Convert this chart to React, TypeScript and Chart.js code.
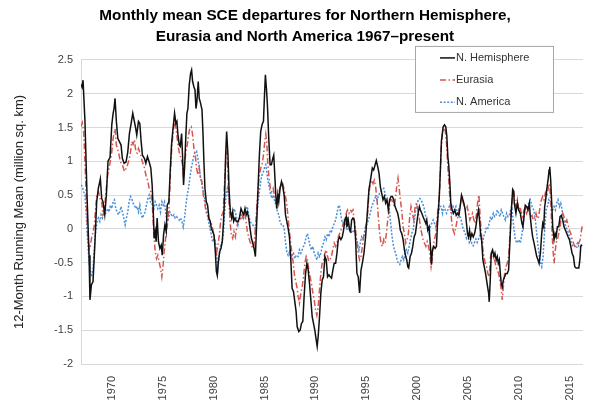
import React, { useEffect, useRef } from 'react';
import { Chart, registerables } from 'chart.js';

Chart.register(...registerables);

const TITLE_LINES = [
  'Monthly mean SCE departures for Northern Hemisphere,',
  'Eurasia and North America 1967–present',
];
const Y_AXIS_TITLE = '12-Month Running Mean (million sq. km)';
const SERIES_LABELS = ['N. Hemisphere', 'Eurasia', 'N. America'];
const X_TICK_YEARS = [1970, 1975, 1980, 1985, 1990, 1995, 2000, 2005, 2010, 2015];
const X_MIN = 1967;
const X_MAX = 2016.25;
const Y_MIN = -2;
const Y_MAX = 2.5;
const Y_STEP = 0.5;

// [decimal year, departure in million sq. km]
const nhSeries: [number, number][] = [
  [1967.0, 2.14], [1967.1, 2.1], [1967.2, 2.2], [1967.39, 1.59], [1967.59, 0.5], [1967.79, -0.39], [1967.88, -1.05],
  [1968.02, -0.83], [1968.18, -0.78], [1968.34, -0.29], [1968.54, 0.4], [1968.7, 0.6], [1968.9, 0.74],
  [1969.03, 0.45], [1969.16, 0.4], [1969.33, 0.21], [1969.49, 0.5], [1969.65, 1.0], [1969.85, 1.06],
  [1970.02, 1.54], [1970.15, 1.71], [1970.24, 1.78], [1970.34, 1.93], [1970.47, 1.59], [1970.61, 1.34], [1970.77, 1.29], [1970.93, 1.24],
  [1971.06, 1.04], [1971.23, 0.97], [1971.42, 0.99], [1971.59, 1.14], [1971.75, 1.41], [1971.92, 1.56],
  [1972.08, 1.71], [1972.21, 1.61], [1972.34, 1.51], [1972.47, 1.39], [1972.64, 1.59], [1972.77, 1.56], [1972.9, 1.29],
  [1973.03, 1.09], [1973.23, 1.04], [1973.36, 0.97], [1973.52, 1.07], [1973.69, 0.99], [1973.85, 0.9], [1973.98, 0.65],
  [1974.08, 0.3], [1974.18, -0.14], [1974.28, -0.04], [1974.37, -0.19], [1974.47, 0.16], [1974.6, -0.19], [1974.74, -0.29], [1974.87, -0.24], [1974.97, -0.39],
  [1975.1, -0.09], [1975.23, 0.06], [1975.36, -0.04], [1975.46, 0.35], [1975.62, 0.4], [1975.75, 0.85], [1975.88, 1.24],
  [1976.01, 1.46], [1976.18, 1.71], [1976.31, 1.56], [1976.41, 1.59], [1976.5, 1.41], [1976.64, 1.24], [1976.74, 1.22], [1976.87, 1.41], [1976.96, 1.09],
  [1977.06, 0.65], [1977.16, 0.9], [1977.29, 1.39], [1977.39, 1.71], [1977.49, 1.78], [1977.62, 2.13], [1977.75, 2.3], [1977.85, 2.35], [1977.95, 2.18],
  [1978.08, 2.1], [1978.18, 2.06], [1978.28, 1.78], [1978.37, 1.88], [1978.5, 2.18], [1978.6, 1.93], [1978.73, 1.86], [1978.87, 1.76], [1978.96, 1.44],
  [1979.06, 0.99], [1979.16, 0.6], [1979.29, 0.4], [1979.42, 0.35], [1979.55, 0.16], [1979.68, 0.11], [1979.78, 0.01], [1979.91, -0.04],
  [1980.05, -0.09], [1980.18, -0.34], [1980.28, -0.63], [1980.37, -0.69], [1980.47, -0.49], [1980.6, -0.34], [1980.73, -0.29], [1980.86, -0.19], [1980.98, 0.1],
  [1981.09, 0.5], [1981.19, 1.09], [1981.29, 1.44], [1981.42, 1.09], [1981.52, 0.6], [1981.65, 0.25], [1981.78, 0.16], [1981.88, 0.25], [1981.98, 0.11],
  [1982.11, 0.16], [1982.24, 0.11], [1982.4, 0.11], [1982.54, 0.16], [1982.7, 0.3], [1982.83, 0.25], [1982.96, 0.21],
  [1983.09, 0.3], [1983.22, 0.21], [1983.32, 0.25], [1983.45, 0.16], [1983.58, 0.01], [1983.72, -0.14], [1983.85, -0.21], [1983.98, -0.29],
  [1984.11, -0.41], [1984.24, 0.11], [1984.37, 0.6], [1984.5, 1.09], [1984.63, 1.44], [1984.76, 1.54], [1984.9, 1.59], [1984.99, 1.93],
  [1985.09, 2.28], [1985.19, 2.08], [1985.29, 1.83], [1985.42, 1.34], [1985.55, 0.95], [1985.68, 0.95], [1985.81, 1.04], [1985.91, 1.09],
  [1986.01, 0.8], [1986.11, 0.5], [1986.21, 0.3], [1986.31, 0.5], [1986.4, 0.4], [1986.53, 0.6], [1986.67, 0.7], [1986.8, 0.62], [1986.93, 0.5],
  [1987.06, 0.21], [1987.19, 0.11], [1987.32, 0.01], [1987.45, -0.12], [1987.58, -0.44], [1987.71, -0.88], [1987.85, -0.93], [1987.98, -1.08],
  [1988.1, -1.22], [1988.21, -1.45], [1988.37, -1.52], [1988.5, -1.5], [1988.63, -1.4], [1988.76, -1.37], [1988.89, -1.0],
  [1989.03, -0.66], [1989.16, -0.51], [1989.29, -0.61], [1989.42, -0.81], [1989.55, -1.05], [1989.68, -1.3], [1989.81, -1.4], [1989.94, -1.5],
  [1990.07, -1.64], [1990.17, -1.74], [1990.27, -1.59], [1990.4, -1.3], [1990.53, -0.95], [1990.66, -0.76], [1990.79, -0.71], [1990.93, -0.41],
  [1991.06, -0.46], [1991.19, -0.71], [1991.32, -0.68], [1991.45, -0.71], [1991.58, -0.73], [1991.71, -0.61], [1991.84, -0.51], [1991.98, -0.51],
  [1992.11, -0.36], [1992.24, -0.16], [1992.37, -0.12], [1992.5, -0.16], [1992.63, -0.12], [1992.76, -0.02], [1992.89, 0.13],
  [1993.02, 0.18], [1993.09, 0.03], [1993.22, 0.13], [1993.35, -0.02], [1993.45, -0.04], [1993.55, 0.13], [1993.68, 0.16], [1993.81, 0.13], [1993.94, -0.16],
  [1994.07, -0.66], [1994.2, -0.71], [1994.33, -0.95], [1994.47, -0.61], [1994.6, -0.51], [1994.76, -0.36], [1994.92, -0.12],
  [1995.09, 0.23], [1995.25, 0.58], [1995.45, 0.77], [1995.58, 0.9], [1995.71, 0.87], [1995.84, 0.94], [1995.97, 1.01],
  [1996.11, 0.92], [1996.24, 0.82], [1996.37, 0.62], [1996.5, 0.53], [1996.63, 0.43], [1996.76, 0.48], [1996.89, 0.38],
  [1997.02, 0.43], [1997.15, 0.28], [1997.28, 0.43], [1997.42, 0.48], [1997.55, 0.48], [1997.68, 0.43], [1997.81, 0.33], [1997.94, 0.28],
  [1998.07, 0.23], [1998.2, 0.13], [1998.33, -0.02], [1998.47, -0.07], [1998.6, -0.16], [1998.73, -0.31], [1998.86, -0.41], [1998.96, -0.46],
  [1999.06, -0.56], [1999.15, -0.58], [1999.29, -0.41], [1999.42, -0.36], [1999.55, -0.26], [1999.68, -0.12], [1999.81, -0.07], [1999.94, 0.08],
  [2000.07, 0.23], [2000.2, 0.33], [2000.3, 0.28], [2000.43, 0.23], [2000.56, 0.18], [2000.69, 0.13], [2000.83, 0.08], [2000.92, 0.13],
  [2001.02, -0.02], [2001.15, 0.03], [2001.28, -0.26], [2001.38, -0.53], [2001.48, -0.31], [2001.61, -0.26], [2001.74, -0.29], [2001.87, -0.26],
  [2002.0, 0.15], [2002.14, 0.45], [2002.27, 0.92], [2002.36, 1.3], [2002.45, 1.41], [2002.53, 1.51], [2002.66, 1.54], [2002.79, 1.51], [2002.89, 1.37], [2002.99, 1.07],
  [2003.09, 0.92], [2003.19, 0.67], [2003.28, 0.38], [2003.41, 0.28], [2003.55, 0.23], [2003.68, 0.28], [2003.81, 0.2], [2003.94, 0.23],
  [2004.07, 0.2], [2004.2, 0.33], [2004.33, 0.5], [2004.43, 0.45], [2004.56, 0.38], [2004.69, 0.28], [2004.82, 0.08], [2004.92, -0.07],
  [2005.02, -0.12], [2005.12, -0.02], [2005.22, -0.14], [2005.35, -0.07], [2005.48, -0.12], [2005.61, -0.07], [2005.74, 0.03], [2005.87, 0.18],
  [2006.0, 0.28], [2006.1, 0.13], [2006.2, -0.07], [2006.3, -0.16], [2006.43, -0.46], [2006.56, -0.56], [2006.69, -0.66], [2006.79, -0.76], [2006.89, -0.86], [2006.99, -0.95],
  [2007.05, -1.08], [2007.15, -0.76], [2007.25, -0.36], [2007.38, -0.31], [2007.51, -0.41], [2007.61, -0.36], [2007.74, -0.46], [2007.84, -0.41], [2007.94, -0.51],
  [2008.04, -0.46], [2008.14, -0.66], [2008.23, -0.81], [2008.33, -0.86], [2008.43, -0.76], [2008.56, -0.71], [2008.69, -0.66], [2008.82, -0.66], [2008.95, -0.61],
  [2009.09, -0.16], [2009.22, 0.28], [2009.35, 0.58], [2009.45, 0.55], [2009.51, 0.38], [2009.67, 0.23], [2009.81, 0.38], [2009.94, 0.28],
  [2010.1, 0.23], [2010.26, 0.08], [2010.36, 0.03], [2010.49, 0.23], [2010.59, 0.35], [2010.72, 0.33], [2010.85, 0.28], [2010.99, 0.38],
  [2011.08, 0.18], [2011.18, 0.03], [2011.31, -0.12], [2011.45, -0.21], [2011.58, -0.31], [2011.71, -0.41], [2011.84, -0.46], [2011.94, -0.51],
  [2012.07, -0.36], [2012.2, -0.07], [2012.3, 0.08], [2012.4, 0.03], [2012.49, 0.33], [2012.59, 0.43], [2012.69, 0.58], [2012.82, 0.72], [2012.92, 0.87], [2012.99, 0.92],
  [2013.08, 0.72], [2013.18, 0.38], [2013.28, 0.03], [2013.41, -0.16], [2013.51, -0.07], [2013.61, -0.12], [2013.74, 0.03], [2013.87, 0.03],
  [2014.0, 0.18], [2014.13, 0.2], [2014.26, 0.13], [2014.39, 0.03], [2014.53, -0.02], [2014.66, -0.07], [2014.79, -0.12], [2014.92, -0.16],
  [2015.05, -0.26], [2015.18, -0.36], [2015.31, -0.41], [2015.44, -0.56], [2015.57, -0.58], [2015.71, -0.58], [2015.84, -0.58], [2015.94, -0.46],
  [2016.03, -0.26], [2016.16, -0.24],
];

const eurasiaSeries: [number, number][] = [
  [1967.0, 1.51], [1967.13, 1.57], [1967.26, 1.44], [1967.39, 0.99], [1967.52, 0.45], [1967.66, -0.09], [1967.8, -0.3], [1967.92, -0.25],
  [1968.05, -0.12], [1968.18, -0.05], [1968.31, 0.06], [1968.44, 0.3], [1968.54, 0.5], [1968.71, 0.55], [1968.87, 0.45],
  [1969.03, 0.4], [1969.16, 0.21], [1969.29, 0.25], [1969.42, 0.5], [1969.62, 0.8], [1969.82, 0.95],
  [1970.02, 1.14], [1970.15, 1.34], [1970.34, 1.48], [1970.47, 1.24], [1970.67, 1.14], [1970.87, 0.99],
  [1971.06, 0.95], [1971.26, 0.85], [1971.46, 0.9], [1971.65, 0.99], [1971.82, 1.09], [1971.98, 1.29],
  [1972.11, 1.25], [1972.24, 1.32], [1972.38, 1.14], [1972.51, 1.12], [1972.64, 1.19], [1972.84, 1.1],
  [1973.03, 0.99], [1973.23, 0.9], [1973.36, 0.8], [1973.56, 0.7], [1973.69, 0.6], [1973.85, 0.55], [1974.0, 0.35],
  [1974.15, -0.09], [1974.28, -0.34], [1974.41, -0.44], [1974.54, -0.39], [1974.67, -0.49], [1974.8, -0.58], [1974.93, -0.71],
  [1975.03, -0.58], [1975.13, -0.39], [1975.26, -0.19], [1975.39, -0.04], [1975.52, 0.11], [1975.65, 0.35], [1975.78, 0.85], [1975.92, 1.24],
  [1976.05, 1.44], [1976.18, 1.61], [1976.31, 1.49], [1976.44, 1.34], [1976.57, 1.19], [1976.7, 1.09], [1976.83, 1.04], [1976.96, 0.95],
  [1977.06, 0.75], [1977.16, 0.95], [1977.29, 1.14], [1977.42, 1.24], [1977.55, 1.39], [1977.68, 1.49], [1977.82, 1.51], [1977.95, 1.39],
  [1978.08, 1.19], [1978.21, 1.09], [1978.34, 0.9], [1978.47, 0.8], [1978.6, 0.9], [1978.73, 0.75], [1978.87, 0.7],
  [1979.0, 0.5], [1979.13, 0.4], [1979.26, 0.25], [1979.39, 0.21], [1979.52, 0.16], [1979.65, 0.11], [1979.78, 0.08], [1979.91, 0.01],
  [1980.05, -0.09], [1980.18, -0.25], [1980.31, -0.35], [1980.44, -0.24], [1980.57, -0.09], [1980.7, 0.11], [1980.83, 0.21], [1980.96, 0.25],
  [1981.09, 0.7], [1981.23, 1.09], [1981.32, 1.14], [1981.42, 0.85], [1981.52, 0.4], [1981.62, 0.11], [1981.75, -0.09], [1981.88, -0.14],
  [1982.01, -0.04], [1982.14, -0.12], [1982.27, 0.01], [1982.4, 0.11], [1982.54, 0.11], [1982.67, 0.16], [1982.8, 0.21], [1982.93, 0.16],
  [1983.06, 0.25], [1983.19, 0.11], [1983.32, -0.04], [1983.45, -0.12], [1983.58, -0.19], [1983.72, -0.24], [1983.85, -0.29], [1983.98, -0.24],
  [1984.11, 0.01], [1984.24, 0.3], [1984.37, 0.6], [1984.5, 0.8], [1984.63, 0.9], [1984.76, 0.95], [1984.9, 1.09],
  [1985.03, 1.29], [1985.13, 1.4], [1985.22, 1.29], [1985.32, 0.99], [1985.45, 0.75], [1985.58, 0.6], [1985.71, 0.55], [1985.85, 0.6], [1985.98, 0.5],
  [1986.11, 0.4], [1986.24, 0.45], [1986.37, 0.5], [1986.5, 0.6], [1986.63, 0.65], [1986.76, 0.7], [1986.9, 0.6],
  [1987.03, 0.5], [1987.16, 0.4], [1987.29, 0.21], [1987.42, 0.01], [1987.55, -0.19], [1987.68, -0.34], [1987.81, -0.49], [1987.94, -0.68],
  [1988.07, -0.78], [1988.21, -0.88], [1988.3, -1.0], [1988.43, -1.1], [1988.57, -0.95], [1988.7, -0.86], [1988.83, -0.71], [1988.96, -0.51],
  [1989.09, -0.41], [1989.22, -0.46], [1989.35, -0.61], [1989.48, -0.71], [1989.61, -0.81], [1989.75, -0.95], [1989.88, -1.05],
  [1990.01, -1.2], [1990.14, -1.28], [1990.27, -1.15], [1990.4, -0.9], [1990.53, -0.66], [1990.66, -0.51], [1990.79, -0.46], [1990.93, -0.36],
  [1991.06, -0.31], [1991.19, -0.41], [1991.32, -0.48], [1991.45, -0.45], [1991.58, -0.4], [1991.71, -0.3], [1991.84, -0.21], [1991.98, -0.26],
  [1992.11, -0.21], [1992.24, -0.12], [1992.37, -0.07], [1992.5, -0.02], [1992.63, 0.03], [1992.76, 0.08], [1992.89, 0.13],
  [1993.02, 0.23], [1993.15, 0.28], [1993.29, 0.23], [1993.42, 0.28], [1993.55, 0.25], [1993.68, 0.28], [1993.81, 0.13], [1993.94, -0.02],
  [1994.07, -0.21], [1994.2, -0.36], [1994.33, -0.46], [1994.47, -0.41], [1994.6, -0.26], [1994.73, -0.12], [1994.86, -0.02], [1994.99, 0.08],
  [1995.12, 0.23], [1995.25, 0.53], [1995.38, 0.67], [1995.52, 0.72], [1995.65, 0.67], [1995.78, 0.72], [1995.91, 0.62],
  [1996.04, 0.43], [1996.17, 0.18], [1996.3, -0.07], [1996.43, -0.21], [1996.56, -0.26], [1996.7, -0.16], [1996.83, -0.21], [1996.96, -0.07],
  [1997.09, 0.13], [1997.22, 0.28], [1997.35, 0.43], [1997.48, 0.43], [1997.61, 0.38], [1997.74, 0.33], [1997.87, 0.48],
  [1998.01, 0.67], [1998.1, 0.75], [1998.2, 0.62], [1998.33, 0.43], [1998.46, 0.28], [1998.6, 0.03], [1998.73, -0.07], [1998.86, -0.21], [1998.99, -0.16],
  [1999.12, -0.07], [1999.25, 0.18], [1999.38, 0.33], [1999.51, 0.23], [1999.65, 0.13], [1999.78, 0.33], [1999.91, 0.38],
  [2000.04, 0.28], [2000.17, 0.18], [2000.3, 0.03], [2000.43, -0.07], [2000.56, -0.16], [2000.69, -0.21], [2000.83, -0.26], [2000.96, -0.19],
  [2001.09, -0.26], [2001.22, -0.36], [2001.35, -0.56], [2001.45, -0.46], [2001.55, -0.26], [2001.68, -0.16], [2001.81, -0.07], [2001.94, 0.18],
  [2002.07, 0.33], [2002.2, 0.62], [2002.33, 1.17], [2002.46, 1.41], [2002.59, 1.49], [2002.73, 1.46], [2002.86, 1.27], [2002.99, 0.92],
  [2003.12, 0.62], [2003.25, 0.33], [2003.38, 0.08], [2003.51, -0.02], [2003.64, -0.07], [2003.78, 0.03], [2003.91, 0.13],
  [2004.04, 0.23], [2004.17, 0.33], [2004.3, 0.43], [2004.4, 0.5], [2004.5, 0.38], [2004.63, 0.33], [2004.76, 0.28], [2004.89, 0.33],
  [2005.02, 0.23], [2005.15, 0.13], [2005.28, 0.18], [2005.41, 0.23], [2005.55, 0.13], [2005.68, 0.08], [2005.81, 0.23], [2005.94, 0.43],
  [2006.04, 0.5], [2006.14, 0.23], [2006.27, -0.07], [2006.4, -0.26], [2006.53, -0.41], [2006.66, -0.51], [2006.79, -0.56], [2006.92, -0.66],
  [2007.05, -0.71], [2007.18, -0.41], [2007.31, -0.36], [2007.45, -0.41], [2007.58, -0.46], [2007.71, -0.56], [2007.84, -0.61], [2007.97, -0.66],
  [2008.1, -0.76], [2008.23, -0.9], [2008.33, -1.05], [2008.43, -0.86], [2008.56, -0.66], [2008.69, -0.56], [2008.82, -0.51], [2008.95, -0.41],
  [2009.09, -0.07], [2009.22, 0.28], [2009.35, 0.5], [2009.45, 0.55], [2009.54, 0.43], [2009.67, 0.33], [2009.81, 0.43], [2009.94, 0.28],
  [2010.07, 0.33], [2010.2, 0.23], [2010.33, 0.18], [2010.46, 0.28], [2010.59, 0.33], [2010.72, 0.23], [2010.85, 0.28], [2010.99, 0.23],
  [2011.12, 0.18], [2011.25, 0.2], [2011.38, 0.13], [2011.51, 0.15], [2011.64, 0.23], [2011.77, 0.15], [2011.9, 0.18],
  [2012.04, 0.33], [2012.17, 0.43], [2012.3, 0.48], [2012.43, 0.43], [2012.56, 0.53], [2012.69, 0.48], [2012.82, 0.58], [2012.92, 0.67],
  [2013.02, 0.58], [2013.12, 0.28], [2013.22, -0.07], [2013.31, -0.31], [2013.41, -0.51], [2013.51, -0.36], [2013.61, -0.21], [2013.74, -0.16], [2013.87, -0.07],
  [2014.0, 0.03], [2014.13, 0.18], [2014.26, 0.23], [2014.39, 0.18], [2014.53, 0.08], [2014.66, 0.13], [2014.79, 0.06], [2014.92, -0.02],
  [2015.05, -0.07], [2015.18, -0.16], [2015.31, -0.21], [2015.44, -0.26], [2015.57, -0.29], [2015.71, -0.26], [2015.84, -0.21], [2015.97, -0.16],
  [2016.1, -0.02], [2016.2, 0.06],
];

const northAmericaSeries: [number, number][] = [
  [1967.0, 0.65], [1967.13, 0.63], [1967.26, 0.55], [1967.39, 0.5], [1967.52, 0.21], [1967.66, -0.19], [1967.79, -0.49], [1967.92, -0.63],
  [1968.05, -0.71], [1968.18, -0.58], [1968.31, -0.29], [1968.44, -0.04], [1968.57, 0.11], [1968.7, 0.16], [1968.84, 0.11], [1968.97, 0.21],
  [1969.1, 0.16], [1969.23, 0.25], [1969.36, 0.21], [1969.49, 0.25], [1969.62, 0.3], [1969.75, 0.25], [1969.88, 0.35],
  [1970.02, 0.3], [1970.15, 0.4], [1970.28, 0.43], [1970.41, 0.3], [1970.54, 0.25], [1970.67, 0.21], [1970.8, 0.25], [1970.93, 0.33],
  [1971.06, 0.25], [1971.2, 0.16], [1971.33, 0.06], [1971.46, 0.16], [1971.59, 0.25], [1971.72, 0.4], [1971.85, 0.48], [1971.98, 0.45],
  [1972.11, 0.38], [1972.24, 0.35], [1972.38, 0.3], [1972.51, 0.33], [1972.64, 0.25], [1972.77, 0.35], [1972.9, 0.21],
  [1973.03, 0.16], [1973.16, 0.21], [1973.29, 0.25], [1973.42, 0.35], [1973.56, 0.45], [1973.69, 0.5], [1973.82, 0.4], [1973.95, 0.38],
  [1974.15, 0.3], [1974.28, 0.4], [1974.41, 0.35], [1974.54, 0.3], [1974.67, 0.35], [1974.8, 0.25], [1974.93, 0.4],
  [1975.06, 0.35], [1975.19, 0.4], [1975.33, 0.21], [1975.46, 0.11], [1975.59, 0.16], [1975.72, 0.25], [1975.85, 0.21], [1975.98, 0.18],
  [1976.11, 0.21], [1976.24, 0.16], [1976.37, 0.18], [1976.5, 0.16], [1976.64, 0.13], [1976.77, 0.16], [1976.9, 0.11],
  [1977.03, 0.03], [1977.16, 0.16], [1977.29, 0.35], [1977.42, 0.5], [1977.55, 0.6], [1977.68, 0.75], [1977.82, 0.9], [1977.95, 0.99],
  [1978.08, 1.09], [1978.21, 1.14], [1978.34, 1.15], [1978.47, 1.04], [1978.6, 0.9], [1978.73, 0.75], [1978.87, 0.65],
  [1979.0, 0.55], [1979.13, 0.45], [1979.26, 0.3], [1979.39, 0.21], [1979.52, 0.11], [1979.65, 0.01], [1979.78, -0.09], [1979.91, -0.19],
  [1980.05, -0.14], [1980.18, -0.19], [1980.31, -0.39], [1980.44, -0.58], [1980.57, -0.39], [1980.7, -0.24], [1980.83, -0.19], [1980.96, -0.09],
  [1981.09, 0.25], [1981.23, 0.5], [1981.36, 0.6], [1981.49, 0.45], [1981.62, 0.3], [1981.75, 0.25], [1981.88, 0.21],
  [1982.01, 0.3], [1982.14, 0.25], [1982.27, 0.16], [1982.4, 0.06], [1982.54, 0.16], [1982.67, 0.21], [1982.8, 0.16], [1982.93, 0.21],
  [1983.06, 0.25], [1983.19, 0.3], [1983.32, 0.33], [1983.45, 0.21], [1983.58, 0.11], [1983.72, 0.08], [1983.85, 0.06], [1983.98, 0.03],
  [1984.11, 0.01], [1984.24, 0.16], [1984.37, 0.4], [1984.5, 0.55], [1984.63, 0.7], [1984.76, 0.8], [1984.9, 0.85],
  [1985.03, 0.92], [1985.13, 0.95], [1985.22, 0.85], [1985.35, 0.7], [1985.49, 0.6], [1985.62, 0.5], [1985.75, 0.45], [1985.88, 0.5],
  [1986.01, 0.4], [1986.14, 0.35], [1986.27, 0.25], [1986.4, 0.21], [1986.53, 0.11], [1986.67, 0.06], [1986.8, 0.06], [1986.93, 0.01],
  [1987.06, -0.19], [1987.19, -0.34], [1987.32, -0.39], [1987.45, -0.34], [1987.58, -0.44], [1987.71, -0.39], [1987.85, -0.36], [1987.98, -0.44],
  [1988.11, -0.39], [1988.21, -0.4], [1988.3, -0.41], [1988.43, -0.31], [1988.57, -0.36], [1988.7, -0.31], [1988.83, -0.26], [1988.96, -0.21],
  [1989.09, -0.12], [1989.22, -0.07], [1989.35, -0.16], [1989.48, -0.26], [1989.61, -0.31], [1989.75, -0.26], [1989.88, -0.36],
  [1990.01, -0.41], [1990.14, -0.46], [1990.27, -0.36], [1990.4, -0.41], [1990.53, -0.36], [1990.66, -0.26], [1990.79, -0.21], [1990.93, -0.12],
  [1991.06, -0.16], [1991.19, -0.07], [1991.32, -0.12], [1991.45, -0.02], [1991.58, -0.04], [1991.71, 0.03], [1991.84, 0.08], [1991.98, 0.13],
  [1992.11, 0.23], [1992.24, 0.33], [1992.34, 0.35], [1992.43, 0.28], [1992.57, 0.13], [1992.7, 0.08], [1992.83, 0.13], [1992.96, 0.08],
  [1993.09, -0.02], [1993.22, 0.08], [1993.35, -0.02], [1993.48, -0.07], [1993.61, -0.02], [1993.75, -0.04], [1993.88, -0.02],
  [1994.01, -0.16], [1994.14, -0.21], [1994.27, -0.31], [1994.4, -0.21], [1994.53, -0.12], [1994.66, -0.16], [1994.79, -0.07], [1994.92, 0.03],
  [1995.06, 0.08], [1995.19, 0.13], [1995.38, 0.23], [1995.52, 0.33], [1995.65, 0.38], [1995.78, 0.43], [1995.91, 0.48],
  [1996.04, 0.43], [1996.17, 0.48], [1996.3, 0.53], [1996.43, 0.55], [1996.56, 0.58], [1996.7, 0.6], [1996.83, 0.53], [1996.96, 0.43],
  [1997.09, 0.38], [1997.22, 0.33], [1997.35, 0.13], [1997.48, -0.07], [1997.61, -0.21], [1997.74, -0.31], [1997.87, -0.36],
  [1998.01, -0.46], [1998.14, -0.51], [1998.27, -0.53], [1998.4, -0.46], [1998.53, -0.41], [1998.66, -0.46], [1998.79, -0.36], [1998.92, -0.31],
  [1999.06, -0.36], [1999.19, -0.26], [1999.32, -0.16], [1999.45, -0.07], [1999.58, -0.02], [1999.71, 0.13], [1999.84, 0.28], [1999.97, 0.38],
  [2000.1, 0.43], [2000.23, 0.45], [2000.37, 0.43], [2000.5, 0.38], [2000.63, 0.33], [2000.76, 0.23], [2000.89, 0.13],
  [2001.02, 0.03], [2001.15, -0.07], [2001.28, 0.03], [2001.41, 0.08], [2001.55, 0.13], [2001.68, 0.08], [2001.81, 0.03], [2001.94, 0.08],
  [2002.07, 0.23], [2002.2, 0.33], [2002.33, 0.33], [2002.46, 0.23], [2002.59, 0.33], [2002.73, 0.28], [2002.86, 0.23], [2002.99, 0.28],
  [2003.12, 0.33], [2003.25, 0.28], [2003.38, 0.23], [2003.51, 0.33], [2003.64, 0.28], [2003.78, 0.33], [2003.91, 0.23],
  [2004.04, 0.28], [2004.17, 0.18], [2004.3, 0.13], [2004.43, 0.03], [2004.56, -0.02], [2004.69, -0.07], [2004.82, -0.14], [2004.95, -0.1],
  [2005.09, -0.2], [2005.22, -0.15], [2005.35, -0.22], [2005.48, -0.25], [2005.61, -0.2], [2005.74, -0.15], [2005.87, -0.2],
  [2006.0, -0.15], [2006.14, -0.1], [2006.27, -0.15], [2006.4, -0.2], [2006.53, -0.1], [2006.66, -0.05], [2006.79, 0.03], [2006.92, 0.01],
  [2007.05, 0.08], [2007.18, 0.18], [2007.31, 0.13], [2007.45, 0.23], [2007.58, 0.18], [2007.71, 0.2], [2007.84, 0.28], [2007.97, 0.23],
  [2008.1, 0.18], [2008.23, 0.28], [2008.36, 0.23], [2008.49, 0.18], [2008.63, 0.13], [2008.76, 0.23], [2008.89, 0.18],
  [2009.02, 0.2], [2009.15, 0.28], [2009.28, 0.3], [2009.45, 0.03], [2009.61, -0.16], [2009.77, -0.21], [2009.94, -0.16],
  [2010.1, -0.21], [2010.27, -0.07], [2010.43, 0.13], [2010.59, 0.33], [2010.75, 0.3], [2010.92, 0.38],
  [2011.08, 0.43], [2011.25, 0.33], [2011.41, 0.28], [2011.58, 0.13], [2011.71, -0.07], [2011.84, -0.26], [2011.97, -0.41],
  [2012.1, -0.51], [2012.2, -0.56], [2012.33, -0.41], [2012.43, -0.16], [2012.53, 0.08], [2012.63, 0.28], [2012.76, 0.33], [2012.89, 0.43],
  [2013.02, 0.4], [2013.15, 0.33], [2013.28, 0.28], [2013.41, 0.33], [2013.54, 0.28], [2013.67, 0.38], [2013.8, 0.43], [2013.94, 0.33],
  [2014.07, 0.38], [2014.2, 0.28], [2014.33, 0.13], [2014.46, 0.08], [2014.59, 0.03], [2014.72, -0.02], [2014.85, -0.07], [2014.99, -0.16],
  [2015.12, -0.21], [2015.25, -0.26], [2015.38, -0.26], [2015.51, -0.26], [2015.71, -0.21], [2015.84, -0.26], [2016.0, -0.26], [2016.17, -0.21],
];

const FONT = "'Liberation Sans', Arial, Helvetica, sans-serif";
const COLORS = ['#111111', '#D8544E', '#4A8FD8'];
const DASHES: number[][] = [[], [6, 2.5, 1.5, 2.5], [2, 1.6]];

const boxLegend = {
  id: 'boxLegend',
  afterDraw(chart: any) {
    const { ctx, chartArea } = chart;
    const boxW = 138;
    const boxH = 66;
    const left = chartArea.right - 30 - boxW;
    const top = chartArea.top - 14;
    ctx.save();
    ctx.fillStyle = '#ffffff';
    ctx.fillRect(left, top, boxW, boxH);
    ctx.strokeStyle = '#a6a6a6';
    ctx.lineWidth = 1;
    ctx.strokeRect(left + 0.5, top + 0.5, boxW, boxH);
    ctx.font = `11px ${FONT}`;
    ctx.textBaseline = 'middle';
    ctx.textAlign = 'left';
    chart.data.datasets.forEach((ds: any, i: number) => {
      const y = top + 12 + i * 22.2;
      ctx.beginPath();
      ctx.setLineDash(ds.borderDash || []);
      ctx.strokeStyle = ds.borderColor;
      ctx.lineWidth = 1.5;
      ctx.moveTo(left + 25, y);
      ctx.lineTo(left + 40, y);
      ctx.stroke();
      ctx.setLineDash([]);
      ctx.fillStyle = '#333333';
      ctx.fillText(ds.label, left + 41, y);
    });
    ctx.restore();
  },
};

export default function App() {
  const canvasRef = useRef<HTMLCanvasElement>(null);

  useEffect(() => {
    const canvas = canvasRef.current;
    if (!canvas) return;
    const seriesList = [nhSeries, eurasiaSeries, northAmericaSeries];
    const chart = new Chart(canvas, {
      type: 'line',
      data: {
        datasets: seriesList.map((series, i) => ({
          label: SERIES_LABELS[i],
          data: series.map(([x, y]) => ({ x, y })),
          borderColor: COLORS[i],
          backgroundColor: COLORS[i],
          borderWidth: 1.5,
          borderDash: DASHES[i],
          pointRadius: 0,
          pointHoverRadius: 0,
          tension: 0,
          fill: false,
        })),
      },
      options: {
        responsive: false,
        animation: false,
        devicePixelRatio: 1,
        layout: { padding: { left: 10, right: 0, top: 0, bottom: 0 } },
        plugins: {
          legend: { display: false },
          tooltip: { enabled: false },
          title: {
            display: true,
            text: TITLE_LINES,
            color: '#000000',
            font: { family: FONT, size: 15.3, weight: 'bold', lineHeight: 1.37 },
            padding: { top: 5.5, bottom: 12.5 },
          },
        },
        scales: {
          x: {
            type: 'linear',
            position: 'bottom',
            min: X_MIN,
            max: X_MAX,
            grid: { display: false, drawTicks: false },
            border: { display: false },
            ticks: {
              autoSkip: false,
              minRotation: 90,
              maxRotation: 90,
              padding: 12,
              color: '#404040',
              font: { family: FONT, size: 11 },
              callback: (v: any) => String(v),
            },
            afterBuildTicks: (axis: any) => {
              axis.ticks = X_TICK_YEARS.map((value) => ({ value }));
            },
            afterFit: (scale: any) => {
              scale.height = 43;
            },
          },
          y: {
            type: 'linear',
            position: 'left',
            min: Y_MIN,
            max: Y_MAX,
            grid: { color: '#d9d9d9', lineWidth: 1, drawTicks: false },
            border: { display: true, color: '#d9d9d9' },
            ticks: {
              stepSize: Y_STEP,
              padding: 8,
              color: '#404040',
              font: { family: FONT, size: 11 },
              callback: (v: any) => String(Math.round(Number(v) * 10) / 10),
            },
            title: {
              display: true,
              text: Y_AXIS_TITLE,
              color: '#222222',
              font: { family: FONT, size: 13 },
              padding: { top: 2, bottom: 0 },
            },
            afterFit: (scale: any) => {
              scale.width = 71;
            },
          },
          yRight: {
            type: 'linear',
            position: 'right',
            display: true,
            grid: { display: false, drawTicks: false },
            border: { display: false },
            ticks: { display: false },
            afterFit: (scale: any) => {
              scale.width = 17;
            },
          },
        },
      },
      plugins: [boxLegend],
    });
    return () => chart.destroy();
  }, []);

  return (
    <div style={{ position: 'fixed', left: 0, top: 0, width: 600, height: 407, background: '#ffffff' }}>
      <canvas ref={canvasRef} width={600} height={407} style={{ display: 'block', width: 600, height: 407 }} />
    </div>
  );
}
